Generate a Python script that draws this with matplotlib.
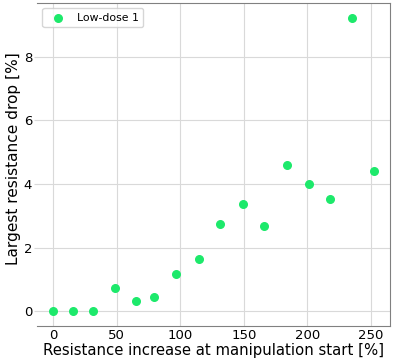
import numpy as np
from matplotlib import pyplot as plt

# données
increase = [0, 15.7, 31.4, 48.7, 65, 79.6, 96.9, 114.7, 131.4, 149.3, 166, 183.8, 201.3, 217.8, 235.4, 252.2]
drop = [0, 0, 0, 0.75, 0.32, 0.46, 1.19, 1.64, 2.74, 3.37, 2.68, 4.6, 3.99, 3.54, 9.23, 4.40]

fig, ax = plt.subplots(figsize=(3.97, 3.62), dpi=100)
fig.subplots_adjust(left=0.093, right=0.982, top=0.992, bottom=0.099)

ax.scatter(increase, drop, s=30, color="#1de96b", label="Low-dose 1", zorder=3)

ax.grid(True, color="#d9d9d9", linewidth=0.8)
ax.set_axisbelow(True)
ax.spines["left"].set_visible(False)
for s in ("top", "right", "bottom"):
    ax.spines[s].set_color("#808080")

ax.set_xticks([0, 50, 100, 150, 200, 250])
ax.set_yticks([0, 2, 4, 6, 8])
ax.tick_params(axis="x", labelsize=9.5, length=0, pad=2)
ax.tick_params(axis="y", labelsize=9.5, length=2, pad=1.5, color="#d9d9d9")
ax.set_xlabel("Resistance increase at manipulation start [%]", fontsize=10.7, labelpad=1)
ax.set_ylabel("Largest resistance drop [%]", fontsize=11.1, labelpad=1)
ax.yaxis.set_label_coords(-0.046, 0.517)
ax.legend(loc="upper left", fontsize=7.8)

fig.savefig("out.png")
